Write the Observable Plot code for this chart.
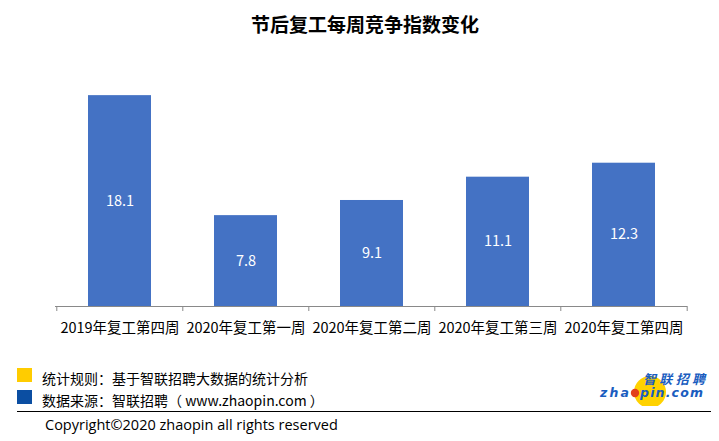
<!DOCTYPE html>
<html>
<head>
<meta charset="utf-8">
<script src="https://cdn.jsdelivr.net/npm/d3@7"></script>
<script src="https://cdn.jsdelivr.net/npm/@observablehq/plot@0.6"></script>
<style>
  html, body { margin: 0; padding: 0; background: #fff; }
  body { width: 719px; height: 441px; position: relative; overflow: hidden; font-family: "Noto Sans CJK SC", "Noto Sans", sans-serif; }
  #chart { position: absolute; left: 0; top: 0; }
  .abs { position: absolute; white-space: nowrap; }
  #title { left: 0; width: 730px; top: 10px; text-align: center; font-size: 19px; font-weight: bold; color: #000; }
  .sq { position: absolute; width: 15px; height: 14px; }
  .foot { font-size: 14px; color: #000; }
  #rule { position: absolute; left: 17px; top: 411px; width: 694px; height: 0; border-top: 1.5px solid #000; }
  #copy { left: 45px; top: 415px; font-family: "Open Sans", "Noto Sans", sans-serif; font-size: 14.5px; color: #000; }
  #logo { position: absolute; left: 596px; top: 366px; width: 115px; height: 40px; }
</style>
</head>
<body>
<div id="chart"></div>
<div id="title" class="abs">节后复工每周竞争指数变化</div>

<div class="sq" style="left:17px; top:368px; background:#FFCC00;"></div>
<div class="abs foot" style="left:42px; top:368px;">统计规则：基于智联招聘大数据的统计分析</div>
<div class="sq" style="left:17px; top:390px; background:#0B4EA2;"></div>
<div class="abs foot" style="left:42px; top:390px;">数据来源：智联招聘（ www.zhaopin.com ）</div>
<div id="rule"></div>
<div id="copy" class="abs">Copyright©2020 zhaopin all rights reserved</div>

<svg id="logo" viewBox="0 0 115 40" xmlns="http://www.w3.org/2000/svg">
  <circle cx="54" cy="26" r="16" fill="#FFD200"/>
  <text x="47" y="18" font-family="Noto Sans CJK SC" font-weight="bold" font-style="italic" font-size="13" textLength="62" fill="#1A5DBF">智联招聘</text>
  <text x="4" y="31" font-family="DejaVu Sans" font-weight="bold" font-style="italic" font-size="12.5" textLength="29" fill="#1A5DBF">zha</text>
  <circle cx="39" cy="27" r="4.2" fill="#E2401C"/>
  <text x="44" y="31" font-family="DejaVu Sans" font-weight="bold" font-style="italic" font-size="12.5" textLength="63" fill="#1A5DBF">pin.com</text>
</svg>

<script>
const categories = ["2019年复工第四周", "2020年复工第一周", "2020年复工第二周", "2020年复工第三周", "2020年复工第四周"];
const values = [18.1, 7.8, 9.1, 11.1, 12.3];
const yDomain = [0, 20];

const data = categories.map((c, i) => ({cat: c, value: values[i]}));
const step = (687 - 55) / categories.length;
const half = step / 2;

const plot = Plot.plot({
  width: 719,
  height: 345,
  marginLeft: 55,
  marginRight: 32,
  marginTop: 73,
  marginBottom: 39,
  style: {fontFamily: "'Noto Sans CJK SC', sans-serif", background: "transparent"},
  x: {domain: categories, paddingInner: 0.5, paddingOuter: 0.25, label: null},
  y: {domain: yDomain, axis: null},
  marks: [
    Plot.barY(data, {x: "cat", y: "value", fill: "#4472C4"}),
    Plot.ruleY([0], {stroke: "#898989", strokeWidth: 1}),
    Plot.ruleX(categories, {x: d => d, y1: 0, y2: 0, insetBottom: -5, dx: -half, stroke: "#898989", strokeWidth: 1}),
    Plot.ruleX(categories.slice(-1), {x: d => d, y1: 0, y2: 0, insetBottom: -5, dx: half, stroke: "#898989", strokeWidth: 1}),
    Plot.text(data, {x: "cat", y: d => d.value / 2, text: d => d.value.toFixed(1), fill: "white", fontSize: 14.5}),
    Plot.axisX({tickSize: 0, tickPadding: 16, fontSize: 14.5, fill: "#000", label: null})
  ]
});
document.getElementById("chart").appendChild(plot);
</script>
</body>
</html>
